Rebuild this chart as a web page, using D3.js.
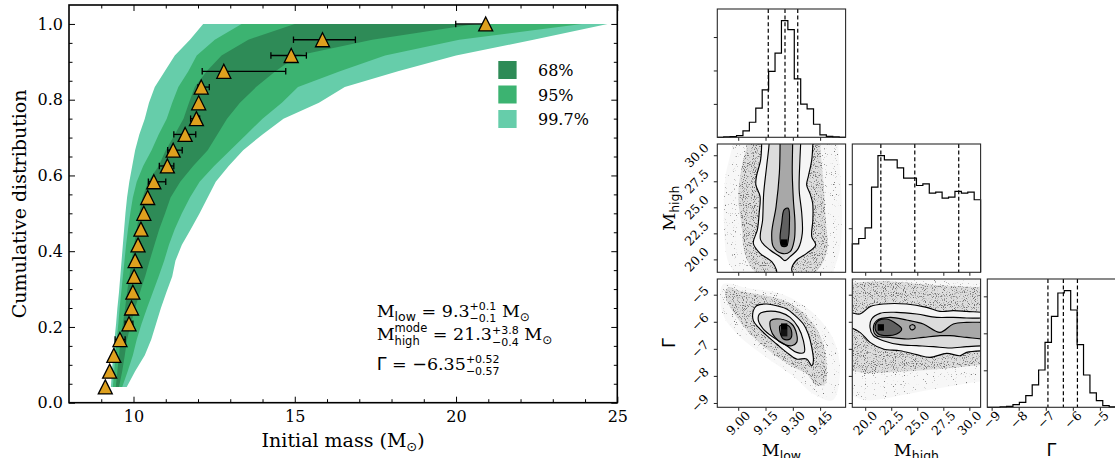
<!DOCTYPE html>
<html><head><meta charset="utf-8">
<script src="https://cdn.jsdelivr.net/npm/d3@7"></script>
<style>body{margin:0;background:#fff}svg{display:block}</style>
</head><body>
<svg id="c" width="1115" height="458"></svg>
<script>
// ---------------- DATA: main panel ----------------
const cumLevels = [0.0417,0.0833,0.125,0.1667,0.2083,0.25,0.2917,0.3333,0.375,0.4167,0.4583,0.5,0.5417,0.5833,0.625,0.6667,0.7083,0.75,0.7917,0.8333,0.875,0.9167,0.9583,1.0];
const lo997 = [9.30,9.33,9.37,9.41,9.46,9.50,9.55,9.59,9.63,9.67,9.71,9.75,9.80,9.87,9.96,10.05,10.18,10.35,10.48,10.66,10.97,11.28,11.75,12.16];
const lo95  = [9.36,9.40,9.44,9.48,9.53,9.57,9.62,9.67,9.72,9.77,9.83,9.90,9.98,10.10,10.30,10.56,10.78,11.03,11.20,11.39,11.70,11.96,12.52,13.35];
const lo68  = [9.45,9.50,9.55,9.60,9.67,9.74,9.80,9.87,9.94,10.02,10.10,10.18,10.28,10.45,10.78,11.00,11.28,11.55,11.72,11.90,12.27,12.73,13.56,15.00];
const hi68  = [9.55,9.65,9.73,9.80,9.92,10.05,10.20,10.36,10.50,10.65,10.80,10.98,11.15,11.45,11.85,12.30,12.60,12.90,13.30,13.80,14.40,15.10,17.40,20.60];
const hi95  = [9.65,9.82,9.98,10.10,10.25,10.42,10.60,10.78,10.95,11.10,11.28,11.50,11.75,12.05,12.50,13.00,13.50,14.00,14.60,15.10,16.40,17.80,20.10,23.90];
const hi997 = [9.79,10.05,10.35,10.55,10.70,10.85,11.02,11.20,11.30,11.50,11.78,12.05,12.30,12.55,12.95,13.40,14.00,14.65,15.75,16.55,18.20,20.00,22.40,24.70];
const obsMass = [9.125,9.26,9.39,9.58,9.86,9.94,9.98,10.02,10.05,10.14,10.23,10.32,10.44,10.63,11.05,11.23,11.60,11.95,12.02,12.10,12.80,14.89,15.86,20.92];
const obsLo   = [9.08,9.21,9.33,9.43,9.74,9.89,9.93,9.97,10.00,10.09,10.18,10.27,10.39,10.46,10.80,11.06,11.25,11.77,11.97,12.00,12.13,14.26,14.96,19.99];
const obsHi   = [9.17,9.31,9.45,9.74,9.98,9.99,10.03,10.07,10.10,10.19,10.28,10.37,10.49,11.00,11.25,11.51,11.93,12.05,12.07,12.35,14.72,15.36,16.88,20.92];
const xMajorTicks = [10,15,20,25];
const xMinorTicks = [9,11,12,13,14,16,17,18,19,21,22,23,24];
const yMajorTicks = [0,0.2,0.4,0.6,0.8,1.0];
const yMinorTicks = [0.05,0.1,0.15,0.25,0.3,0.35,0.45,0.5,0.55,0.65,0.7,0.75,0.85,0.9,0.95];
const legendLabels = ['68%','95%','99.7%'];

// ---------------- DATA: corner plot ----------------
const lowDomain = [8.885,9.59],  lowTicks = [9.00,9.15,9.30,9.45];
const highDomain = [18.76,31.08], highTicks = [20.0,22.5,25.0,27.5,30.0];
const gamDomain = [-9.16,-4.42], gamTicks = [-9,-8,-7,-6,-5];
const histLow   = [0,1,2,5,19,45,87,142,197,252,349,322,175,99,85,39,7,3,1,0];
const histHigh  = [86,102,134,257,352,339,339,315,284,284,262,267,239,242,224,227,244,239,242,219];
const histGamma = [0,0,1,3,8,15,35,67,112,195,273,343,350,292,188,97,43,20,5,1];
const histLowTicks = [100,200,300], histHighTicks = [133,266], histGammaTicks = [111,222,333];
const qLow = [9.165,9.257,9.327], qHigh = [21.5,24.76,28.98], qGamma = [-6.92,-6.35,-5.83];

// panel (row1,col0): x = M_low, y = M_high
const c10Sparse = [[8.97,33],[8.97,31.2],[8.93,28],[8.92,24],[8.94,20],[8.98,18.5],[8.98,17],[9.52,17],[9.52,18.5],[9.56,21],[9.57,25],[9.55,31.2],[9.55,33]];
const c10Dense  = [[9.05,33],[9.05,31.2],[9.02,29],[9.0,26],[9.02,23],[9.03,21],[9.06,19.5],[9.1,18.5],[9.1,17],[9.42,17],[9.42,18.5],[9.46,19.5],[9.49,21],[9.48,24],[9.47,27],[9.46,29],[9.45,31.2],[9.45,33]];
const c10Outer  = [[9.129,33],[9.129,31.2],[9.123,29.56],[9.10,27.95],[9.097,27.15],[9.12,26.03],[9.115,24.43],[9.105,22.83],[9.083,21.55],[9.12,20.58],[9.184,19.78],[9.21,18.98],[9.212,18.5],[9.212,17],[9.30,17],[9.30,18.5],[9.294,19.14],[9.321,19.94],[9.376,20.58],[9.425,21.38],[9.404,22.19],[9.41,23.79],[9.409,25.39],[9.394,26.35],[9.376,27.15],[9.385,27.95],[9.404,29.56],[9.41,31.2],[9.41,33]];
const c10Second = [[9.17,33],[9.17,31.2],[9.156,28.92],[9.14,26.35],[9.134,23.79],[9.123,21.87],[9.175,20.9],[9.23,20.26],[9.257,19.88],[9.285,20.26],[9.33,21.06],[9.352,22.5],[9.349,24.43],[9.335,26.67],[9.339,29.56],[9.343,31.2],[9.343,33]];
const c10Third  = [[9.23,33],[9.23,31.2],[9.226,28.28],[9.208,25.07],[9.184,22.5],[9.193,21.22],[9.239,20.58],[9.285,20.74],[9.308,21.87],[9.312,23.47],[9.303,25.71],[9.297,28.28],[9.299,31.2],[9.299,33]];
const c10Inner  = [[9.252,24.75],[9.275,24.91],[9.281,23.15],[9.275,21.87],[9.266,21.29],[9.239,21.29],[9.23,22.03],[9.239,23.47]];
const c10Cells  = [[9.235,9.27,21.3,21.92,1.0]];

// panel (row2,col0): x = M_low, y = Gamma
const c20Sparse = [[8.92,-4.6],[9.05,-4.75],[9.25,-5.0],[9.40,-5.6],[9.52,-6.6],[9.56,-7.8],[9.52,-8.9],[9.42,-8.7],[9.30,-8.0],[9.15,-7.3],[9.00,-6.5],[8.92,-5.8],[8.90,-5.0]];
const c20Dense  = [[8.946,-4.729],[9.010,-4.852],[9.101,-4.975],[9.230,-5.160],[9.321,-5.468],[9.413,-6.083],[9.468,-6.822],[9.486,-7.684],[9.477,-8.300],[9.431,-8.362],[9.376,-7.931],[9.303,-7.684],[9.230,-7.376],[9.157,-7.007],[9.065,-6.453],[8.992,-5.837],[8.946,-5.345],[8.928,-4.975]];
const c20Outer  = [[9.083,-5.591],[9.101,-5.406],[9.157,-5.345],[9.230,-5.443],[9.266,-5.529],[9.303,-5.714],[9.358,-6.083],[9.385,-6.453],[9.404,-6.945],[9.413,-7.438],[9.404,-7.623],[9.376,-7.376],[9.321,-7.376],[9.266,-7.130],[9.211,-6.822],[9.157,-6.514],[9.111,-6.207],[9.083,-5.960]];
const c20Second = [[9.116,-5.714],[9.157,-5.615],[9.230,-5.652],[9.285,-5.837],[9.330,-6.207],[9.358,-6.699],[9.362,-7.130],[9.321,-7.130],[9.266,-6.884],[9.193,-6.576],[9.138,-6.268],[9.111,-5.960]];
const c20Third  = [[9.178,-5.960],[9.230,-5.899],[9.294,-6.083],[9.321,-6.453],[9.321,-6.761],[9.294,-6.884],[9.248,-6.822],[9.202,-6.576],[9.178,-6.268]];
const c20Inner  = [[9.230,-6.145],[9.276,-6.145],[9.294,-6.391],[9.285,-6.638],[9.248,-6.638],[9.230,-6.391]];
const c20Cells  = [[9.235,9.27,-6.30,-6.06,1.0],[9.235,9.27,-6.54,-6.30,0.8]];

// panel (row2,col1): x = M_high, y = Gamma
const c21Sparse = [[17.5,-4.3],[32.5,-4.3],[32.5,-8.2],[31.4,-8.2],[25,-8.6],[20,-8.9],[18.5,-8.7],[17.5,-8.7]];
const c21Dense  = [[17.5,-4.55],[18.5,-4.55],[22,-4.5],[26,-4.62],[31.4,-4.72],[32.5,-4.72],[32.5,-7.6],[31.4,-7.6],[27,-7.75],[23,-7.85],[20,-7.9],[18.5,-7.8],[17.5,-7.8]];
const c21Outer  = [[17.5,-5.652],[18.5,-5.652],[19.50,-5.714],[20.46,-5.443],[21.74,-5.345],[23.98,-5.345],[25.90,-5.468],[27.18,-5.615],[28.46,-5.591],[29.74,-5.615],[31.4,-5.652],[32.5,-5.652],[32.5,-7.069],[31.4,-7.069],[29.74,-7.130],[29.10,-7.254],[27.82,-7.167],[26.22,-7.315],[24.94,-7.216],[23.34,-7.069],[21.74,-7.007],[20.46,-6.761],[19.50,-6.391],[18.5,-6.207],[17.5,-6.207]];
const c21Second = [[20.46,-6.207],[20.62,-5.899],[21.42,-5.689],[23.02,-5.652],[24.94,-5.714],[26.86,-5.837],[28.46,-5.837],[29.74,-5.862],[31.4,-5.862],[32.5,-5.862],[32.5,-6.884],[31.4,-6.884],[29.74,-6.921],[28.14,-6.970],[26.54,-6.921],[24.94,-6.884],[23.34,-6.847],[21.74,-6.699],[20.78,-6.514]];
const c21Third  = [[20.78,-6.268],[21.10,-5.960],[22.38,-5.837],[23.98,-5.936],[25.58,-6.083],[27.18,-6.391],[28.46,-6.083],[29.74,-6.022],[31.4,-6.022],[32.5,-6.022],[32.5,-6.638],[31.4,-6.638],[29.74,-6.576],[28.14,-6.514],[27.18,-6.514],[25.58,-6.576],[23.98,-6.638],[22.38,-6.576],[21.10,-6.514]];
const c21Inner  = [[20.94,-6.207],[21.26,-5.960],[22.06,-5.899],[23.02,-6.083],[23.50,-6.268],[23.02,-6.453],[22.06,-6.514],[21.26,-6.453]];
const c21Loop   = [[24.3,-6.15],[24.6,-6.11],[24.8,-6.2],[24.6,-6.29],[24.35,-6.27]];
const c21Cells  = [[21.2,21.8,-6.33,-6.09,1.0]];

// ---------------- DRAW ----------------
const serif = "'DejaVu Serif', serif", sans = "'DejaVu Sans', sans-serif";
const svg = d3.select('#c');
const defs = svg.append('defs');

function speckle(id, slope, offset){
  const f = defs.append('filter').attr('id',id).attr('x',0).attr('y',0).attr('width','100%').attr('height','100%')
    .attr('filterUnits','objectBoundingBox').attr('color-interpolation-filters','sRGB');
  f.append('feTurbulence').attr('type','fractalNoise').attr('baseFrequency',0.9).attr('numOctaves',1).attr('seed',7).attr('result','n');
  f.append('feColorMatrix').attr('in','n').attr('type','matrix')
    .attr('values',`0 0 0 0 0  0 0 0 0 0  0 0 0 0 0  ${slope} 0 0 0 ${offset}`).attr('result','m');
  f.append('feComposite').attr('in','SourceGraphic').attr('in2','m').attr('operator','in');
}
speckle('spDense', 8, -4.3);
speckle('spSparse', 10, -6.6);

// rich text helper
function rich(parent, x, y, parts, anchor, rot){
  const g = parent.append('g').attr('transform',`translate(${x},${y}) rotate(${rot||0})`);
  let cx = 0;
  parts.forEach(p=>{
    if (p.stack){
      let w = 0;
      p.stack.forEach(s=>{
        const t = g.append('text').attr('x',cx).attr('y',s.dy).attr('font-family',p.ff).attr('font-size',p.fs).text(s.t);
        w = Math.max(w, t.node().getComputedTextLength());
      });
      cx += w;
    } else {
      const t = g.append('text').attr('x',cx).attr('y',p.dy||0).attr('font-family',p.ff).attr('font-size',p.fs).text(p.t);
      cx += t.node().getComputedTextLength();
    }
  });
  if (anchor==='middle') g.selectAll('text').attr('x',function(){return +this.getAttribute('x')-cx/2;});
  return g;
}

// ===== main panel =====
const M = {l:69, r:617.3, t:5, b:402.7};
const x = d3.scaleLinear().domain([8,25]).range([M.l,M.r]);
const y = d3.scaleLinear().domain([0,1.05]).range([M.b,M.t]);
const main = svg.append('g');
const bandColors = ['#66cdaa','#3cb371','#2e8b57'];
[[lo997,hi997],[lo95,hi95],[lo68,hi68]].forEach(([lo,hi],i)=>{
  const rows = cumLevels.map((c,k)=>({c, lo:lo[k], hi:hi[k]}));
  main.append('path').datum(rows)
    .attr('d', d3.area().y(d=>y(d.c)).x0(d=>x(d.lo)).x1(d=>x(d.hi)))
    .attr('fill', bandColors[i]);
});
const obs = obsMass.map((m,k)=>({m, c:cumLevels[k], lo:obsLo[k], hi:obsHi[k]}));
const eg = main.append('g').attr('stroke','#000').attr('stroke-width',1.3);
eg.selectAll('line.e').data(obs).join('line').attr('x1',d=>x(d.lo)).attr('x2',d=>x(d.hi)).attr('y1',d=>y(d.c)).attr('y2',d=>y(d.c));
eg.selectAll('line.cl').data(obs).join('line').attr('x1',d=>x(d.lo)).attr('x2',d=>x(d.lo)).attr('y1',d=>y(d.c)-3.2).attr('y2',d=>y(d.c)+3.2);
eg.selectAll('line.ch').data(obs).join('line').attr('x1',d=>x(d.hi)).attr('x2',d=>x(d.hi)).attr('y1',d=>y(d.c)-3.2).attr('y2',d=>y(d.c)+3.2);
const tri = 'M0,-7L7,7L-7,7Z';
main.selectAll('path.tri').data(obs).join('path').attr('class','tri')
  .attr('transform',d=>`translate(${x(d.m)},${y(d.c)})`).attr('d',tri)
  .attr('fill','#dea01e').attr('stroke','#000').attr('stroke-width',1.3).attr('stroke-linejoin','miter');

// axes / ticks
function axisG(axis, tx, ty){
  const g = svg.append('g').attr('transform',`translate(${tx},${ty})`).call(axis);
  g.select('.domain').remove();
  g.selectAll('.tick line').attr('stroke','#000').attr('stroke-width',1);
  g.selectAll('text').attr('font-family',serif).attr('font-size',16).attr('fill','#000');
  return g;
}
axisG(d3.axisBottom(x).tickValues(xMajorTicks).tickSize(-6).tickPadding(8).tickFormat(d3.format('d')),0,M.b);
axisG(d3.axisBottom(x).tickValues(xMinorTicks).tickSize(-3.5).tickFormat(''),0,M.b);
axisG(d3.axisTop(x).tickValues(xMajorTicks).tickSize(-6).tickFormat(''),0,M.t);
axisG(d3.axisTop(x).tickValues(xMinorTicks).tickSize(-3.5).tickFormat(''),0,M.t);
axisG(d3.axisLeft(y).tickValues(yMajorTicks).tickSize(-6).tickPadding(6).tickFormat(d3.format('.1f')),M.l,0);
axisG(d3.axisLeft(y).tickValues(yMinorTicks).tickSize(-3.5).tickFormat(''),M.l,0);
axisG(d3.axisRight(y).tickValues(yMajorTicks).tickSize(-6).tickFormat(''),M.r,0);
axisG(d3.axisRight(y).tickValues(yMinorTicks).tickSize(-3.5).tickFormat(''),M.r,0);
svg.append('rect').attr('x',M.l).attr('y',M.t).attr('width',M.r-M.l).attr('height',M.b-M.t)
  .attr('fill','none').attr('stroke','#000').attr('stroke-width',1.6);

// axis labels
rich(svg, (M.l+M.r)/2, 446.5, [{t:'Initial mass (M',ff:serif,fs:19},{t:'\u2299',ff:sans,fs:13,dy:4},{t:')',ff:serif,fs:19}], 'middle');
svg.append('text').attr('transform',`translate(26,${(M.t+M.b)/2}) rotate(-90)`).attr('text-anchor','middle')
  .attr('font-family',serif).attr('font-size',19).text('Cumulative distribution');

// legend
const lg = svg.append('g');
legendLabels.forEach((t,i)=>{
  lg.append('rect').attr('x',498.3).attr('y',61+i*24.5).attr('width',18.3).attr('height',18).attr('fill',bandColors[2-i]);
  lg.append('text').attr('x',538).attr('y',76+i*24.5).attr('font-family',serif).attr('font-size',16).text(t);
});

// annotation
const NB='\u00a0';
rich(svg, 376.7, 316.7, [
  {t:'M',ff:serif,fs:17.5},{t:'low',ff:sans,fs:12.5,dy:4},{t:NB+'='+NB+'9.3',ff:serif,fs:17.5},
  {stack:[{t:'+0.1',dy:-6.5},{t:'\u22120.1',dy:5.5}],ff:sans,fs:11},{t:NB+'M',ff:serif,fs:17.5},{t:'\u2299',ff:sans,fs:12,dy:4}]);
rich(svg, 376.7, 340, [
  {t:'M',ff:serif,fs:17.5},{stack:[{t:'mode',dy:-8},{t:'high',dy:5}],ff:sans,fs:11.5},{t:NB+'='+NB+'21.3',ff:serif,fs:17.5},
  {stack:[{t:'+3.8',dy:-6.5},{t:'\u22120.4',dy:5.5}],ff:sans,fs:11},{t:NB+'M',ff:serif,fs:17.5},{t:'\u2299',ff:sans,fs:12,dy:4}]);
rich(svg, 376.7, 369.5, [
  {t:'\u0393',ff:sans,fs:17.5},{t:NB+'='+NB,ff:serif,fs:17.5},{t:'\u2212',ff:sans,fs:17.5},{t:'6.35',ff:serif,fs:17.5},
  {stack:[{t:'+0.52',dy:-6.5},{t:'\u22120.57',dy:5.5}],ff:sans,fs:11}]);

// ===== corner plot =====
const PS = 128.3, PG = 6.7, CX = 717.3, CY = 9;
const params = [
  {dom:lowDomain, ticks:lowTicks, fmt:d3.format('.2f')},
  {dom:highDomain, ticks:highTicks, fmt:d3.format('.1f')},
  {dom:gamDomain, ticks:gamTicks, fmt:d3.format('d')}
];
const box = (col,row)=>({x:CX+col*(PS+PG), y:CY+row*(PS+PG)});
const scales = (col,row,ydom)=>{
  const b = box(col,row);
  return {b, xs:d3.scaleLinear().domain(params[col].dom).range([b.x,b.x+PS]),
          ys:d3.scaleLinear().domain(ydom||params[row].dom).range([b.y+PS,b.y])};
};
function smallTicks(xs, ys, b, xt, yt){
  const g1 = svg.append('g').attr('transform',`translate(0,${b.y+PS})`).call(d3.axisBottom(xs).tickValues(xt).tickSize(3.5).tickFormat(''));
  const g2 = svg.append('g').attr('transform',`translate(${b.x},0)`).call(d3.axisLeft(ys).tickValues(yt).tickSize(3.5).tickFormat(''));
  [g1,g2].forEach(g=>{g.select('.domain').remove(); g.selectAll('.tick line').attr('stroke','#222').attr('stroke-width',1);});
}
function border(b){
  svg.append('rect').attr('x',b.x).attr('y',b.y).attr('width',PS).attr('height',PS).attr('fill','none').attr('stroke','#2a2a2a').attr('stroke-width',1.1);
}
function hist(i, counts, q, yt){
  const ymax = d3.max(counts)*1.1;
  const {b,xs,ys} = scales(i,i,[0,ymax]);
  const d0 = params[i].dom[0], w = (params[i].dom[1]-params[i].dom[0])/counts.length;
  const pts = [[d0,0]];
  counts.forEach((c,k)=>{pts.push([d0+k*w,c]); pts.push([d0+(k+1)*w,c]);});
  pts.push([params[i].dom[1],0]);
  svg.append('path').attr('d',d3.line().x(d=>xs(d[0])).y(d=>ys(d[1]))(pts)).attr('fill','none').attr('stroke','#000').attr('stroke-width',1.2);
  svg.selectAll(null).data(q).join('line').attr('x1',d=>xs(d)).attr('x2',d=>xs(d)).attr('y1',b.y).attr('y2',b.y+PS)
    .attr('stroke','#000').attr('stroke-width',1.2).attr('stroke-dasharray','4,2.6');
  smallTicks(xs, ys, b, params[i].ticks, yt);
  border(b);
}
const levelFills = ['#f5f5f5','#dcdcdc','#a8a8a8','#606060'];
function dens(col,row,sparse,dense,levels,cells,extra){
  const {b,xs,ys} = scales(col,row);
  const id = `clip${col}${row}`;
  defs.append('clipPath').attr('id',id).append('rect').attr('x',b.x).attr('y',b.y).attr('width',PS).attr('height',PS);
  const g = svg.append('g').attr('clip-path',`url(#${id})`);
  const line = d3.line().x(d=>xs(d[0])).y(d=>ys(d[1])).curve(d3.curveCatmullRomClosed.alpha(0.5));
  g.append('path').attr('d',line(sparse)).attr('fill','#000').attr('fill-opacity',0.03);
  g.append('path').attr('d',line(sparse)).attr('fill','#777').attr('filter','url(#spSparse)');
  g.append('path').attr('d',line(dense)).attr('fill','#000').attr('fill-opacity',0.1);
  g.append('path').attr('d',line(dense)).attr('fill','#666').attr('fill-opacity',0.8).attr('filter','url(#spDense)');
  levels.forEach((p,i)=>g.append('path').attr('d',line(p)).attr('fill',levelFills[i]));
  g.selectAll(null).data(cells).join('rect')
    .attr('x',d=>xs(d[0])).attr('width',d=>xs(d[1])-xs(d[0])).attr('y',d=>ys(d[3])).attr('height',d=>ys(d[2])-ys(d[3]))
    .attr('fill',d=>d3.interpolateGreys(0.7+0.3*d[4]));
  levels.concat(extra||[]).forEach(p=>g.append('path').attr('d',line(p)).attr('fill','none').attr('stroke','#000').attr('stroke-width',1.15));
  smallTicks(xs, ys, b, params[col].ticks, params[row].ticks);
  border(b);
}
dens(0,1,c10Sparse,c10Dense,[c10Outer,c10Second,c10Third,c10Inner],c10Cells);
dens(0,2,c20Sparse,c20Dense,[c20Outer,c20Second,c20Third,c20Inner],c20Cells);
dens(1,2,c21Sparse,c21Dense,[c21Outer,c21Second,c21Third,c21Inner],c21Cells,[c21Loop]);
hist(0,histLow,qLow,histLowTicks);
hist(1,histHigh,qHigh,histHighTicks);
hist(2,histGamma,qGamma,histGammaTicks);

// rotated tick labels
function rotLabel(px,py,str,side){
  const t = svg.append('text').attr('font-family',serif).attr('font-size',12.5).attr('text-anchor','middle')
    .attr('dominant-baseline','central').text(str);
  const L = t.node().getComputedTextLength();
  const half = (L+8)*0.3535;
  const cx = side==='bottom' ? px : px - 8 - half;
  const cy = side==='bottom' ? py + 3 + half : py;
  t.attr('transform',`translate(${cx},${cy}) rotate(-45)`);
}
[0,1,2].forEach(col=>{
  const {b,xs} = scales(col,2);
  params[col].ticks.forEach(v=>rotLabel(xs(v), b.y+PS, params[col].fmt(v), 'bottom'));
});
[1,2].forEach(row=>{
  const {b,ys} = scales(0,row);
  params[row].ticks.forEach(v=>rotLabel(b.x, ys(v), params[row].fmt(v), 'left'));
});
// corner axis labels
const colC = c=>CX+c*(PS+PG)+PS/2, rowC = r=>CY+r*(PS+PG)+PS/2;
rich(svg, colC(0), 456, [{t:'M',ff:serif,fs:17.5},{t:'low',ff:sans,fs:12.5,dy:4}], 'middle');
rich(svg, colC(1), 456, [{t:'M',ff:serif,fs:17.5},{t:'high',ff:sans,fs:12.5,dy:4}], 'middle');
rich(svg, colC(2), 456, [{t:'\u0393',ff:sans,fs:17.5}], 'middle');
rich(svg, 674.5, rowC(1), [{t:'M',ff:serif,fs:17.5},{t:'high',ff:sans,fs:12.5,dy:4}], 'middle', -90);
rich(svg, 674.5, rowC(2), [{t:'\u0393',ff:sans,fs:17.5}], 'middle', -90);
</script>
</body></html>
